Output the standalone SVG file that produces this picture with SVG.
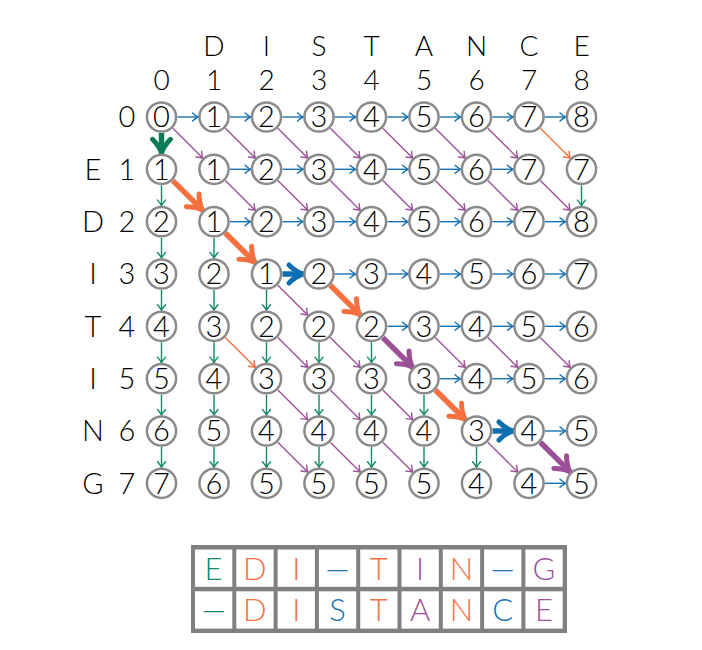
<svg xmlns="http://www.w3.org/2000/svg" width="702" height="650" viewBox="0 0 702 650">
<style>
.t{font-family:Lato,"DejaVu Sans",sans-serif;font-weight:300;font-size:29px;text-anchor:middle;fill:#000}
.h{font-family:Lato,"DejaVu Sans",sans-serif;font-weight:300;font-size:28px;text-anchor:middle;fill:#000}
.c{fill:#fff;stroke:#8a8a8a;stroke-width:2.5}
.b{fill:none;stroke:#1572b5;stroke-width:1.4;marker-end:url(#mb)}
.g{fill:none;stroke:#12896a;stroke-width:1.4;marker-end:url(#mg)}
.p{fill:none;stroke:#9d5299;stroke-width:1.4;marker-end:url(#mp)}
.o{fill:none;stroke:#f4703f;stroke-width:1.4;marker-end:url(#mo)}
.B{fill:none;stroke:#0d6eb0;stroke-width:5.5;marker-end:url(#MB)}
.G{fill:none;stroke:#0b7a57;stroke-width:5.5;marker-end:url(#MG)}
.P{fill:none;stroke:#9b4f96;stroke-width:5.5;marker-end:url(#MP)}
.O{fill:none;stroke:#f4703f;stroke-width:5.5;marker-end:url(#MO)}
.cell{fill:#fff}
.L{font-family:Lato,"DejaVu Sans",sans-serif;font-weight:300;font-size:31px;text-anchor:middle}
</style>
<defs>
<marker id="mb" viewBox="-8 -6 10 12" markerWidth="10" markerHeight="12" orient="auto" markerUnits="userSpaceOnUse"><path d="M-5.5,-4 Q-2,-1 0,0 Q-2,1 -5.5,4" fill="none" stroke="#1572b5" stroke-width="1.4" stroke-linecap="round"/></marker>
<marker id="mg" viewBox="-8 -6 10 12" markerWidth="10" markerHeight="12" orient="auto" markerUnits="userSpaceOnUse"><path d="M-5.5,-4 Q-2,-1 0,0 Q-2,1 -5.5,4" fill="none" stroke="#12896a" stroke-width="1.4" stroke-linecap="round"/></marker>
<marker id="mp" viewBox="-8 -6 10 12" markerWidth="10" markerHeight="12" orient="auto" markerUnits="userSpaceOnUse"><path d="M-5.5,-4 Q-2,-1 0,0 Q-2,1 -5.5,4" fill="none" stroke="#9d5299" stroke-width="1.4" stroke-linecap="round"/></marker>
<marker id="mo" viewBox="-8 -6 10 12" markerWidth="10" markerHeight="12" orient="auto" markerUnits="userSpaceOnUse"><path d="M-5.5,-4 Q-2,-1 0,0 Q-2,1 -5.5,4" fill="none" stroke="#f4703f" stroke-width="1.4" stroke-linecap="round"/></marker>
<marker id="MB" viewBox="-16 -14 24 28" markerWidth="24" markerHeight="28" orient="auto" markerUnits="userSpaceOnUse"><path d="M-10,-9 Q-3,-2 4,0 Q-3,2 -10,9" fill="none" stroke="#0d6eb0" stroke-width="5" stroke-linecap="round" stroke-linejoin="round"/></marker>
<marker id="MG" viewBox="-16 -14 24 28" markerWidth="24" markerHeight="28" orient="auto" markerUnits="userSpaceOnUse"><path d="M-10,-9 Q-3,-2 4,0 Q-3,2 -10,9" fill="none" stroke="#0b7a57" stroke-width="5" stroke-linecap="round" stroke-linejoin="round"/></marker>
<marker id="MP" viewBox="-16 -14 24 28" markerWidth="24" markerHeight="28" orient="auto" markerUnits="userSpaceOnUse"><path d="M-10,-9 Q-3,-2 4,0 Q-3,2 -10,9" fill="none" stroke="#9b4f96" stroke-width="5" stroke-linecap="round" stroke-linejoin="round"/></marker>
<marker id="MO" viewBox="-16 -14 24 28" markerWidth="24" markerHeight="28" orient="auto" markerUnits="userSpaceOnUse"><path d="M-10,-9 Q-3,-2 4,0 Q-3,2 -10,9" fill="none" stroke="#f4703f" stroke-width="5" stroke-linecap="round" stroke-linejoin="round"/></marker>
</defs>
<rect width="702" height="650" fill="#fff"/>

<g id="labels">
<text class="h" x="214" y="55.5">D</text><text class="h" x="266.5" y="55.5">I</text><text class="h" x="319" y="55.5">S</text><text class="h" x="371.5" y="55.5">T</text><text class="h" x="424" y="55.5">A</text><text class="h" x="476.5" y="55.5">N</text><text class="h" x="529" y="55.5">C</text><text class="h" x="581.5" y="55.5">E</text>
<text class="h" x="161.5" y="89.5">0</text><text class="h" x="214" y="89.5">1</text><text class="h" x="266.5" y="89.5">2</text><text class="h" x="319" y="89.5">3</text><text class="h" x="371.5" y="89.5">4</text><text class="h" x="424" y="89.5">5</text><text class="h" x="476.5" y="89.5">6</text><text class="h" x="529" y="89.5">7</text><text class="h" x="581.5" y="89.5">8</text>
<text class="t" x="127" y="127.4">0</text>
<text class="t" x="93" y="179.7">E</text><text class="t" x="127" y="179.7">1</text>
<text class="t" x="93" y="232.1">D</text><text class="t" x="127" y="232.1">2</text>
<text class="t" x="93" y="284.4">I</text><text class="t" x="127" y="284.4">3</text>
<text class="t" x="93" y="336.7">T</text><text class="t" x="127" y="336.7">4</text>
<text class="t" x="93" y="389.1">I</text><text class="t" x="127" y="389.1">5</text>
<text class="t" x="93" y="441.4">N</text><text class="t" x="127" y="441.4">6</text>
<text class="t" x="93" y="493.7">G</text><text class="t" x="127" y="493.7">7</text>
</g>

<g id="connectors">
<path class="b" d="M177.5 117h20.5"/><path class="b" d="M230 117h20.5"/><path class="b" d="M282.5 117h20.5"/><path class="b" d="M335 117h20.5"/><path class="b" d="M387.5 117h20.5"/><path class="b" d="M440 117h20.5"/><path class="b" d="M492.5 117h20.5"/><path class="b" d="M545 117h20.5"/>
<path class="b" d="M230 169.3h20.5"/><path class="b" d="M282.5 169.3h20.5"/><path class="b" d="M335 169.3h20.5"/><path class="b" d="M387.5 169.3h20.5"/><path class="b" d="M440 169.3h20.5"/><path class="b" d="M492.5 169.3h20.5"/>
<path class="b" d="M230 221.7h20.5"/><path class="b" d="M282.5 221.7h20.5"/><path class="b" d="M335 221.7h20.5"/><path class="b" d="M387.5 221.7h20.5"/><path class="b" d="M440 221.7h20.5"/><path class="b" d="M492.5 221.7h20.5"/><path class="b" d="M545 221.7h20.5"/>
<path class="b" d="M335 274h20.5"/><path class="b" d="M387.5 274h20.5"/><path class="b" d="M440 274h20.5"/><path class="b" d="M492.5 274h20.5"/><path class="b" d="M545 274h20.5"/>
<path class="b" d="M387.5 326.3h20.5"/><path class="b" d="M440 326.3h20.5"/><path class="b" d="M492.5 326.3h20.5"/><path class="b" d="M545 326.3h20.5"/>
<path class="b" d="M440 378.7h20.5"/><path class="b" d="M492.5 378.7h20.5"/><path class="b" d="M545 378.7h20.5"/>
<path class="b" d="M545 431h20.5"/>
<path class="b" d="M545 483.3h20.5"/>
<path class="g" d="M161.5 185.3v20.3"/><path class="g" d="M161.5 237.7v20.3"/><path class="g" d="M161.5 290v20.3"/><path class="g" d="M161.5 342.3v20.3"/><path class="g" d="M161.5 394.7v20.3"/><path class="g" d="M161.5 447v20.3"/>
<path class="g" d="M214 237.7v20.3"/><path class="g" d="M214 290v20.3"/><path class="g" d="M214 342.3v20.3"/><path class="g" d="M214 394.7v20.3"/><path class="g" d="M214 447v20.3"/>
<path class="g" d="M266.5 290v20.3"/><path class="g" d="M266.5 342.3v20.3"/><path class="g" d="M266.5 394.7v20.3"/><path class="g" d="M266.5 447v20.3"/>
<path class="g" d="M319 342.3v20.3"/><path class="g" d="M319 394.7v20.3"/><path class="g" d="M319 447v20.3"/>
<path class="g" d="M371.5 342.3v20.3"/><path class="g" d="M371.5 394.7v20.3"/><path class="g" d="M371.5 447v20.3"/>
<path class="g" d="M424 394.7v20.3"/><path class="g" d="M424 447v20.3"/>
<path class="g" d="M476.5 447v20.3"/>
<path class="g" d="M581.5 185.3v20.3"/>
<path class="p" d="M172.8 128.3l29.9 29.7"/><path class="p" d="M225.3 128.3l29.9 29.7"/><path class="p" d="M277.8 128.3l29.9 29.7"/><path class="p" d="M330.3 128.3l29.9 29.7"/><path class="p" d="M382.8 128.3l29.9 29.7"/><path class="p" d="M435.3 128.3l29.9 29.7"/><path class="p" d="M487.8 128.3l29.9 29.7"/>
<path class="p" d="M225.3 180.6l29.9 29.7"/><path class="p" d="M277.8 180.6l29.9 29.7"/><path class="p" d="M330.3 180.6l29.9 29.7"/><path class="p" d="M382.8 180.6l29.9 29.7"/><path class="p" d="M435.3 180.6l29.9 29.7"/><path class="p" d="M487.8 180.6l29.9 29.7"/><path class="p" d="M540.3 180.6l29.9 29.7"/>
<path class="p" d="M277.8 285.3l29.9 29.7"/>
<path class="p" d="M277.8 337.6l29.9 29.7"/><path class="p" d="M330.3 337.6l29.9 29.7"/><path class="p" d="M435.3 337.6l29.9 29.7"/><path class="p" d="M487.8 337.6l29.9 29.7"/><path class="p" d="M540.3 337.6l29.9 29.7"/>
<path class="p" d="M277.8 390l29.9 29.7"/><path class="p" d="M330.3 390l29.9 29.7"/><path class="p" d="M382.8 390l29.9 29.7"/>
<path class="p" d="M277.8 442.3l29.9 29.7"/><path class="p" d="M330.3 442.3l29.9 29.7"/><path class="p" d="M382.8 442.3l29.9 29.7"/><path class="p" d="M487.8 442.3l29.9 29.7"/>
<path class="o" d="M540.3 128.3l29.9 29.7"/>
<path class="o" d="M225.3 337.6l29.9 29.7"/>
<path class="G" d="M161.5 133v16.3"/>
<path class="O" d="M172.8 180.6l27 26.8"/>
<path class="O" d="M225.3 233l27 26.8"/>
<path class="B" d="M282.5 274h16.5"/>
<path class="O" d="M330.3 285.3l27 26.8"/>
<path class="P" d="M382.8 337.6l27 26.8"/>
<path class="O" d="M435.3 390l27 26.8"/>
<path class="B" d="M492.5 431h16.5"/>
<path class="P" d="M540.3 442.3l27 26.8"/>
</g>

<g id="nodes">
<g id="n0_0"><circle class="c" cx="161.5" cy="117" r="14.6"/><text class="t" x="161.5" y="127.4">0</text></g>
<g id="n0_1"><circle class="c" cx="214" cy="117" r="14.6"/><text class="t" x="214" y="127.4">1</text></g>
<g id="n0_2"><circle class="c" cx="266.5" cy="117" r="14.6"/><text class="t" x="266.5" y="127.4">2</text></g>
<g id="n0_3"><circle class="c" cx="319" cy="117" r="14.6"/><text class="t" x="319" y="127.4">3</text></g>
<g id="n0_4"><circle class="c" cx="371.5" cy="117" r="14.6"/><text class="t" x="371.5" y="127.4">4</text></g>
<g id="n0_5"><circle class="c" cx="424" cy="117" r="14.6"/><text class="t" x="424" y="127.4">5</text></g>
<g id="n0_6"><circle class="c" cx="476.5" cy="117" r="14.6"/><text class="t" x="476.5" y="127.4">6</text></g>
<g id="n0_7"><circle class="c" cx="529" cy="117" r="14.6"/><text class="t" x="529" y="127.4">7</text></g>
<g id="n0_8"><circle class="c" cx="581.5" cy="117" r="14.6"/><text class="t" x="581.5" y="127.4">8</text></g>

<g id="n1_0"><circle class="c" cx="161.5" cy="169.3" r="14.6"/><text class="t" x="161.5" y="179.7">1</text></g>
<g id="n1_1"><circle class="c" cx="214" cy="169.3" r="14.6"/><text class="t" x="214" y="179.7">1</text></g>
<g id="n1_2"><circle class="c" cx="266.5" cy="169.3" r="14.6"/><text class="t" x="266.5" y="179.7">2</text></g>
<g id="n1_3"><circle class="c" cx="319" cy="169.3" r="14.6"/><text class="t" x="319" y="179.7">3</text></g>
<g id="n1_4"><circle class="c" cx="371.5" cy="169.3" r="14.6"/><text class="t" x="371.5" y="179.7">4</text></g>
<g id="n1_5"><circle class="c" cx="424" cy="169.3" r="14.6"/><text class="t" x="424" y="179.7">5</text></g>
<g id="n1_6"><circle class="c" cx="476.5" cy="169.3" r="14.6"/><text class="t" x="476.5" y="179.7">6</text></g>
<g id="n1_7"><circle class="c" cx="529" cy="169.3" r="14.6"/><text class="t" x="529" y="179.7">7</text></g>
<g id="n1_8"><circle class="c" cx="581.5" cy="169.3" r="14.6"/><text class="t" x="581.5" y="179.7">7</text></g>

<g id="n2_0"><circle class="c" cx="161.5" cy="221.7" r="14.6"/><text class="t" x="161.5" y="232.1">2</text></g>
<g id="n2_1"><circle class="c" cx="214" cy="221.7" r="14.6"/><text class="t" x="214" y="232.1">1</text></g>
<g id="n2_2"><circle class="c" cx="266.5" cy="221.7" r="14.6"/><text class="t" x="266.5" y="232.1">2</text></g>
<g id="n2_3"><circle class="c" cx="319" cy="221.7" r="14.6"/><text class="t" x="319" y="232.1">3</text></g>
<g id="n2_4"><circle class="c" cx="371.5" cy="221.7" r="14.6"/><text class="t" x="371.5" y="232.1">4</text></g>
<g id="n2_5"><circle class="c" cx="424" cy="221.7" r="14.6"/><text class="t" x="424" y="232.1">5</text></g>
<g id="n2_6"><circle class="c" cx="476.5" cy="221.7" r="14.6"/><text class="t" x="476.5" y="232.1">6</text></g>
<g id="n2_7"><circle class="c" cx="529" cy="221.7" r="14.6"/><text class="t" x="529" y="232.1">7</text></g>
<g id="n2_8"><circle class="c" cx="581.5" cy="221.7" r="14.6"/><text class="t" x="581.5" y="232.1">8</text></g>

<g id="n3_0"><circle class="c" cx="161.5" cy="274" r="14.6"/><text class="t" x="161.5" y="284.4">3</text></g>
<g id="n3_1"><circle class="c" cx="214" cy="274" r="14.6"/><text class="t" x="214" y="284.4">2</text></g>
<g id="n3_2"><circle class="c" cx="266.5" cy="274" r="14.6"/><text class="t" x="266.5" y="284.4">1</text></g>
<g id="n3_3"><circle class="c" cx="319" cy="274" r="14.6"/><text class="t" x="319" y="284.4">2</text></g>
<g id="n3_4"><circle class="c" cx="371.5" cy="274" r="14.6"/><text class="t" x="371.5" y="284.4">3</text></g>
<g id="n3_5"><circle class="c" cx="424" cy="274" r="14.6"/><text class="t" x="424" y="284.4">4</text></g>
<g id="n3_6"><circle class="c" cx="476.5" cy="274" r="14.6"/><text class="t" x="476.5" y="284.4">5</text></g>
<g id="n3_7"><circle class="c" cx="529" cy="274" r="14.6"/><text class="t" x="529" y="284.4">6</text></g>
<g id="n3_8"><circle class="c" cx="581.5" cy="274" r="14.6"/><text class="t" x="581.5" y="284.4">7</text></g>

<g id="n4_0"><circle class="c" cx="161.5" cy="326.3" r="14.6"/><text class="t" x="161.5" y="336.7">4</text></g>
<g id="n4_1"><circle class="c" cx="214" cy="326.3" r="14.6"/><text class="t" x="214" y="336.7">3</text></g>
<g id="n4_2"><circle class="c" cx="266.5" cy="326.3" r="14.6"/><text class="t" x="266.5" y="336.7">2</text></g>
<g id="n4_3"><circle class="c" cx="319" cy="326.3" r="14.6"/><text class="t" x="319" y="336.7">2</text></g>
<g id="n4_4"><circle class="c" cx="371.5" cy="326.3" r="14.6"/><text class="t" x="371.5" y="336.7">2</text></g>
<g id="n4_5"><circle class="c" cx="424" cy="326.3" r="14.6"/><text class="t" x="424" y="336.7">3</text></g>
<g id="n4_6"><circle class="c" cx="476.5" cy="326.3" r="14.6"/><text class="t" x="476.5" y="336.7">4</text></g>
<g id="n4_7"><circle class="c" cx="529" cy="326.3" r="14.6"/><text class="t" x="529" y="336.7">5</text></g>
<g id="n4_8"><circle class="c" cx="581.5" cy="326.3" r="14.6"/><text class="t" x="581.5" y="336.7">6</text></g>

<g id="n5_0"><circle class="c" cx="161.5" cy="378.7" r="14.6"/><text class="t" x="161.5" y="389.1">5</text></g>
<g id="n5_1"><circle class="c" cx="214" cy="378.7" r="14.6"/><text class="t" x="214" y="389.1">4</text></g>
<g id="n5_2"><circle class="c" cx="266.5" cy="378.7" r="14.6"/><text class="t" x="266.5" y="389.1">3</text></g>
<g id="n5_3"><circle class="c" cx="319" cy="378.7" r="14.6"/><text class="t" x="319" y="389.1">3</text></g>
<g id="n5_4"><circle class="c" cx="371.5" cy="378.7" r="14.6"/><text class="t" x="371.5" y="389.1">3</text></g>
<g id="n5_5"><circle class="c" cx="424" cy="378.7" r="14.6"/><text class="t" x="424" y="389.1">3</text></g>
<g id="n5_6"><circle class="c" cx="476.5" cy="378.7" r="14.6"/><text class="t" x="476.5" y="389.1">4</text></g>
<g id="n5_7"><circle class="c" cx="529" cy="378.7" r="14.6"/><text class="t" x="529" y="389.1">5</text></g>
<g id="n5_8"><circle class="c" cx="581.5" cy="378.7" r="14.6"/><text class="t" x="581.5" y="389.1">6</text></g>

<g id="n6_0"><circle class="c" cx="161.5" cy="431" r="14.6"/><text class="t" x="161.5" y="441.4">6</text></g>
<g id="n6_1"><circle class="c" cx="214" cy="431" r="14.6"/><text class="t" x="214" y="441.4">5</text></g>
<g id="n6_2"><circle class="c" cx="266.5" cy="431" r="14.6"/><text class="t" x="266.5" y="441.4">4</text></g>
<g id="n6_3"><circle class="c" cx="319" cy="431" r="14.6"/><text class="t" x="319" y="441.4">4</text></g>
<g id="n6_4"><circle class="c" cx="371.5" cy="431" r="14.6"/><text class="t" x="371.5" y="441.4">4</text></g>
<g id="n6_5"><circle class="c" cx="424" cy="431" r="14.6"/><text class="t" x="424" y="441.4">4</text></g>
<g id="n6_6"><circle class="c" cx="476.5" cy="431" r="14.6"/><text class="t" x="476.5" y="441.4">3</text></g>
<g id="n6_7"><circle class="c" cx="529" cy="431" r="14.6"/><text class="t" x="529" y="441.4">4</text></g>
<g id="n6_8"><circle class="c" cx="581.5" cy="431" r="14.6"/><text class="t" x="581.5" y="441.4">5</text></g>

<g id="n7_0"><circle class="c" cx="161.5" cy="483.3" r="14.6"/><text class="t" x="161.5" y="493.7">7</text></g>
<g id="n7_1"><circle class="c" cx="214" cy="483.3" r="14.6"/><text class="t" x="214" y="493.7">6</text></g>
<g id="n7_2"><circle class="c" cx="266.5" cy="483.3" r="14.6"/><text class="t" x="266.5" y="493.7">5</text></g>
<g id="n7_3"><circle class="c" cx="319" cy="483.3" r="14.6"/><text class="t" x="319" y="493.7">5</text></g>
<g id="n7_4"><circle class="c" cx="371.5" cy="483.3" r="14.6"/><text class="t" x="371.5" y="493.7">5</text></g>
<g id="n7_5"><circle class="c" cx="424" cy="483.3" r="14.6"/><text class="t" x="424" y="493.7">5</text></g>
<g id="n7_6"><circle class="c" cx="476.5" cy="483.3" r="14.6"/><text class="t" x="476.5" y="493.7">4</text></g>
<g id="n7_7"><circle class="c" cx="529" cy="483.3" r="14.6"/><text class="t" x="529" y="493.7">4</text></g>
<g id="n7_8"><circle class="c" cx="581.5" cy="483.3" r="14.6"/><text class="t" x="581.5" y="493.7">5</text></g>
</g>

<g id="alignment">
<rect x="191" y="545" width="376" height="88" fill="#808080"/>
<rect class="cell" x="195" y="549.5" width="37.3" height="37.3"/><rect class="cell" x="236.3" y="549.5" width="37.3" height="37.3"/><rect class="cell" x="277.6" y="549.5" width="37.3" height="37.3"/><rect class="cell" x="318.9" y="549.5" width="37.3" height="37.3"/><rect class="cell" x="360.2" y="549.5" width="37.3" height="37.3"/><rect class="cell" x="401.5" y="549.5" width="37.3" height="37.3"/><rect class="cell" x="442.8" y="549.5" width="37.3" height="37.3"/><rect class="cell" x="484.1" y="549.5" width="37.3" height="37.3"/><rect class="cell" x="525.4" y="549.5" width="37.3" height="37.3"/>
<rect class="cell" x="195" y="591.3" width="37.3" height="37.3"/><rect class="cell" x="236.3" y="591.3" width="37.3" height="37.3"/><rect class="cell" x="277.6" y="591.3" width="37.3" height="37.3"/><rect class="cell" x="318.9" y="591.3" width="37.3" height="37.3"/><rect class="cell" x="360.2" y="591.3" width="37.3" height="37.3"/><rect class="cell" x="401.5" y="591.3" width="37.3" height="37.3"/><rect class="cell" x="442.8" y="591.3" width="37.3" height="37.3"/><rect class="cell" x="484.1" y="591.3" width="37.3" height="37.3"/><rect class="cell" x="525.4" y="591.3" width="37.3" height="37.3"/>
<text class="L" x="213.6" y="579.5" fill="#12896a">E</text>
<text class="L" x="254.9" y="579.5" fill="#f4703f">D</text>
<text class="L" x="296.2" y="579.5" fill="#f4703f">I</text>
<text class="L" x="337.5" y="579.5" fill="#1572b5">—</text>
<text class="L" x="378.8" y="579.5" fill="#f4703f">T</text>
<text class="L" x="420.1" y="579.5" fill="#9d5299">I</text>
<text class="L" x="461.4" y="579.5" fill="#f4703f">N</text>
<text class="L" x="502.7" y="579.5" fill="#1572b5">—</text>
<text class="L" x="544" y="579.5" fill="#9d5299">G</text>
<text class="L" x="213.6" y="621.3" fill="#12896a">—</text>
<text class="L" x="254.9" y="621.3" fill="#f4703f">D</text>
<text class="L" x="296.2" y="621.3" fill="#f4703f">I</text>
<text class="L" x="337.5" y="621.3" fill="#1572b5">S</text>
<text class="L" x="378.8" y="621.3" fill="#f4703f">T</text>
<text class="L" x="420.1" y="621.3" fill="#9d5299">A</text>
<text class="L" x="461.4" y="621.3" fill="#f4703f">N</text>
<text class="L" x="502.7" y="621.3" fill="#1572b5">C</text>
<text class="L" x="544" y="621.3" fill="#9d5299">E</text>
</g>
</svg>
